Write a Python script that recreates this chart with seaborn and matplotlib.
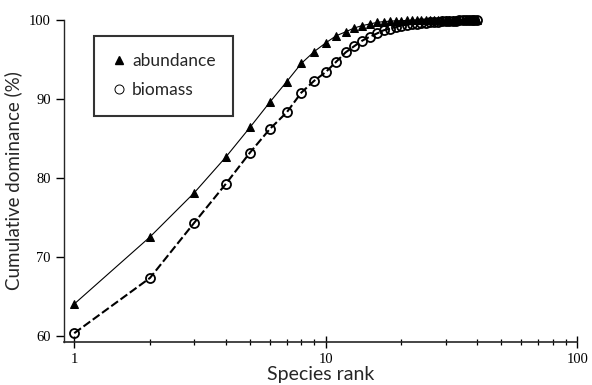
import numpy as np
import pandas as pd
import matplotlib
matplotlib.use("Agg")
import matplotlib.pyplot as plt
import seaborn as sns
from matplotlib.ticker import LogLocator, NullFormatter, FixedLocator, FixedFormatter
from matplotlib.lines import Line2D

ranks = list(range(1, 41))
abundance = [64.0, 72.5, 78.1, 82.6, 86.4, 89.6, 92.2, 94.5, 96.0, 97.1,
             98.0, 98.5, 99.0, 99.3, 99.5, 99.7, 99.8, 99.85, 99.9, 99.92,
             99.94, 99.95, 99.96, 99.97, 99.97, 99.98, 99.98, 99.98, 99.99, 99.99,
             99.99, 99.99, 100.0, 100.0, 100.0, 100.0, 100.0, 100.0, 100.0, 100.0]
biomass = [60.3, 67.3, 74.3, 79.2, 83.2, 86.2, 88.3, 90.8, 92.3, 93.4,
           94.7, 95.9, 96.7, 97.4, 97.9, 98.3, 98.7, 98.9, 99.1, 99.3,
           99.4, 99.5, 99.55, 99.6, 99.65, 99.7, 99.75, 99.8, 99.82, 99.85,
           99.87, 99.9, 99.92, 99.94, 99.95, 99.96, 99.97, 99.98, 99.99, 100.0]
x_ticks = [1, 10, 100]
x_ticklabels = ["1", "10", "100"]
y_ticks = [60, 70, 80, 90, 100]

df = pd.DataFrame({"rank": ranks, "abundance": abundance, "biomass": biomass})

sns.set_style("ticks")
fig = plt.figure(figsize=(5.92, 3.85), dpi=100)
ax = fig.add_axes([0.108, 0.112, 0.867, 0.836])

sans = ["Lato", "DejaVu Sans"]
serif = ["Liberation Serif", "DejaVu Serif"]

sns.lineplot(data=df, x="rank", y="abundance", ax=ax, color="black", linewidth=0.8,
             marker="^", markersize=6.3, markerfacecolor="black", markeredgecolor="black",
             label="abundance", clip_on=False)
sns.lineplot(data=df, x="rank", y="biomass", ax=ax, color="black", linewidth=1.5,
             dashes=False, marker="o", markersize=6.5, markerfacecolor="none",
             markeredgecolor="black", markeredgewidth=1.3, label="biomass", clip_on=False)
ax.lines[1].set_dashes([4, 1.5])

ax.set_xscale("log")
ax.set_xlim(0.91, 100)
ax.set_ylim(59.2, 100)

ax.xaxis.set_major_locator(FixedLocator(x_ticks))
ax.xaxis.set_major_formatter(FixedFormatter(x_ticklabels))
ax.xaxis.set_minor_locator(LogLocator(base=10, subs=np.arange(2, 10)))
ax.xaxis.set_minor_formatter(NullFormatter())
ax.set_yticks(y_ticks)
ax.set_yticklabels([str(v) for v in y_ticks])

ax.tick_params(axis="x", which="major", direction="inout", length=9, width=1, colors="black")
ax.tick_params(axis="x", which="minor", direction="inout", length=5, width=0.9, colors="black")
ax.tick_params(axis="y", which="major", direction="out", length=6, width=1, colors="black")
for lab in ax.get_xticklabels() + ax.get_yticklabels():
    lab.set_fontfamily(serif)
    lab.set_fontsize(10.5)

sns.despine(ax=ax)
ax.spines["left"].set_linewidth(1)
ax.spines["bottom"].set_linewidth(1.2)

ax.set_xlabel("Species rank", fontfamily=sans, fontsize=14, labelpad=0)
ax.set_ylabel("Cumulative dominance (%)", fontfamily=sans, fontsize=13.5, labelpad=5)

handles = [Line2D([], [], linestyle="none", marker="^", markersize=6, color="black"),
           Line2D([], [], linestyle="none", marker="o", markersize=6.5, markerfacecolor="white",
                  markeredgecolor="black", markeredgewidth=0.7)]
leg = ax.legend(handles, ["abundance", "biomass"], loc="upper left",
                bbox_to_anchor=(0.058, 0.95), frameon=True, fancybox=False,
                prop={"family": sans, "size": 12.5}, handlelength=0.9, handletextpad=0.3,
                borderpad=1.0, labelspacing=0.75, borderaxespad=0)
leg.get_frame().set_edgecolor("black")
leg.get_frame().set_linewidth(1.5)

fig.savefig("out.png", dpi=100)
